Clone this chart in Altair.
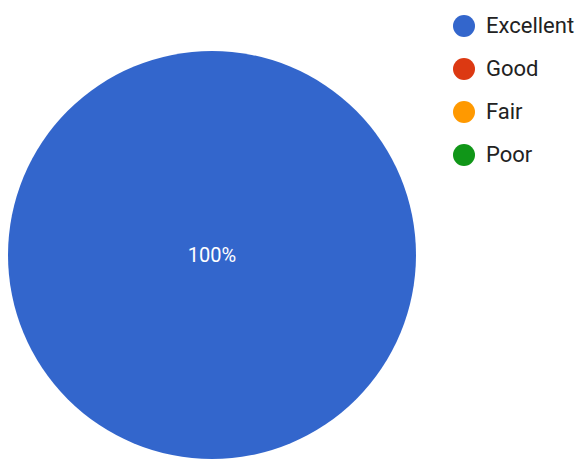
import altair as alt
import pandas as pd

categories = ["Excellent", "Good", "Fair", "Poor"]
values = [100, 0, 0, 0]
colors = ["#3366CC", "#DC3912", "#FF9900", "#109618"]

total = sum(values)
df = pd.DataFrame({
    "category": categories,
    "value": values,
    "order": list(range(len(categories))),
    "label": [f"{round(v / total * 100)}%" if v > 0 else "" for v in values],
})

cx, cy, r = 204, 247, 204

base = alt.Chart(df)

pie = base.mark_arc(radius=r, stroke=None).encode(
    theta=alt.Theta("value:Q", stack=True),
    order=alt.Order("order:Q"),
    x=alt.value(cx),
    y=alt.value(cy),
    color=alt.Color(
        "category:N",
        sort=categories,
        scale=alt.Scale(domain=categories, range=colors),
        legend=alt.Legend(
            title=None,
            orient="none",
            legendX=445,
            legendY=7,
            symbolType="circle",
            symbolSize=484,
            symbolStrokeWidth=0,
            labelFont="Roboto",
            labelFontSize=22,
            labelColor="#222222",
            labelOffset=11,
            rowPadding=21,
        ),
    ),
)

text = base.transform_filter("datum.value > 0").mark_text(
    font="Roboto", fontSize=20, color="white", align="center", baseline="middle"
).encode(
    text="label:N",
    x=alt.value(cx),
    y=alt.value(cy + 1),
)

chart = (pie + text).properties(
    width=571, height=460, padding=0, autosize=alt.AutoSizeParams(type="none")
).configure_view(stroke=None)

chart.save("out.html", embed_options={"renderer": "svg", "actions": False})
